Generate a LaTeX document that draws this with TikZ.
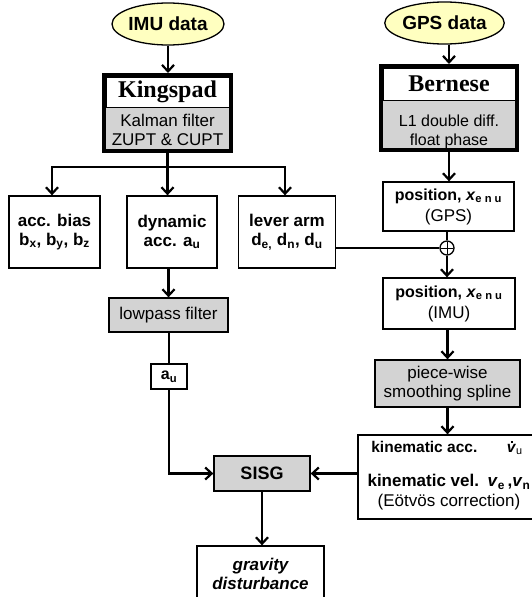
\documentclass[tikz,border=0pt]{standalone}
\usepackage{fontspec}
\setmainfont{Liberation Sans}
\newfontfamily\serifb{Liberation Serif}
\usetikzlibrary{arrows.meta,shapes.geometric}
\definecolor{boxgray}{RGB}{211,211,211}
\definecolor{ellyel}{RGB}{255,255,192}
\newcommand\sbs[1]{\textsubscript{#1}}
\newcommand\fs[1]{\fontsize{#1}{19}\selectfont}
\newcommand\vdt{\makebox[0pt][l]{\hspace{0.3em}\raisebox{0.62em}{\rule{2pt}{2pt}}}v}
\begin{document}
\begin{tikzpicture}[x=1pt,y=-1pt,
  line/.style={line width=2.5pt},
  arr/.style={line width=2.5pt,-{Straight Barb[length=6.5pt,width=12pt,line width=2.2pt]}},
  box/.style={draw,line width=1.3pt,fill=white,inner sep=0pt,align=center,font=\fs{17}\bfseries},
  gbox/.style={box,fill=boxgray,font=\fs{17}},
  bigbox/.style={draw,line width=4pt,fill=boxgray,inner sep=0pt},
  titlebox/.style={draw,line width=1pt,fill=white,inner sep=0pt,font=\serifb\bfseries\fontsize{24}{24}\selectfont},
  data/.style={ellipse,draw,line width=1.3pt,fill=ellyel,inner sep=0pt,font=\fs{19}\bfseries},
  plain/.style={inner sep=0pt,align=center}
]
\useasboundingbox (0,0) rectangle (532,597);
% data sources
\node[data,minimum width=108pt,minimum height=42pt] (imu) at (168,24) {IMU data};
\node[data,minimum width=107pt,minimum height=42pt] (gps) at (444.5,23) {GPS data};
% Kingspad
\node[bigbox,minimum width=127pt,minimum height=76pt] (king) at (167.5,113) {};
\node[titlebox,minimum width=123pt,minimum height=30pt] (kingT) at (167.5,92) {Kingspad};
\node[plain,font=\fs{17}] (kingK) at (167.5,129.5) {Kalman filter\\ZUPT \& CUPT};
% Bernese
\node[bigbox,minimum width=136pt,minimum height=84pt] (bern) at (449,108) {};
\node[titlebox,minimum width=132pt,minimum height=32pt] (bernT) at (449,84) {Bernese};
\node[plain,font=\fs{16}] (bernK) at (449,132) {L1 double diff.\\float phase};
% row of outputs
\node[box,minimum width=91pt,minimum height=72pt] (accb) at (54.5,232) {acc. bias\\b\sbs{x}, b\sbs{y}, b\sbs{z}};
\node[box,minimum width=90pt,minimum height=72pt] (dyn) at (172,232) {dynamic\\acc. a\sbs{u}};
\node[box,minimum width=97pt,minimum height=72pt] (lever) at (287,232) {lever arm\\d\sbs{e,} d\sbs{n}, d\sbs{u}};
% GPS chain
\node[box,minimum width=131pt,minimum height=49pt] (posG) at (448.5,206.5) {\fs{16}position, \textit{x}\sbs{e n u}\\[2pt]\mdseries\fs{17}(GPS)};
\node[box,minimum width=132pt,minimum height=51pt] (posI) at (449,303.5) {\fs{16}position, \textit{x}\sbs{e n u}\\[2pt]\mdseries\fs{17}(IMU)};
\node[gbox,minimum width=145pt,minimum height=47pt] (piece) at (447.5,383.5) {piece-wise\\smoothing spline};
\node[box,minimum width=181pt,minimum height=84pt] (kin) at (448.5,477) {};
\node[plain,font=\fs{15.5}\bfseries] (kinA) at (447,448) {kinematic acc.\hspace{1.9em}\textit{\vdt}\sbs{\mdseries u}};
\node[plain,font=\fs{17}\bfseries] (kinV) at (449,482) {kinematic vel.\enspace\textit{v}\sbs{e}\,,\textit{v}\sbs{n}};
\node[plain,font=\fs{17}] (kinE) at (449,502) {(Eötvös correction)};
% IMU chain
\node[gbox,minimum width=119pt,minimum height=34pt] (lp) at (168.5,315) {lowpass filter};
\node[box,minimum width=36pt,minimum height=25pt,font=\fs{16}\bfseries] (au) at (169,376.5) {a\sbs{u}};
\node[gbox,minimum width=96pt,minimum height=35pt,font=\fs{18}\bfseries] (sisg) at (262,473.5) {SISG};
\node[box,minimum width=127pt,minimum height=56pt,font=\fs{17}\bfseries\itshape] (grav) at (260.5,574) {gravity\\disturbance};
% summation
\node[circle,draw,line width=1.3pt,fill=white,minimum size=14pt,inner sep=0pt] (plus) at (447,248) {};
\draw[line width=1pt,shorten >=1.5pt,shorten <=1.5pt] (plus.north) -- (plus.south);
\draw[line width=1pt,shorten >=1.5pt,shorten <=1.5pt] (plus.west) -- (plus.east);
% branch coordinates
\coordinate (brL) at (52,167);
\coordinate (brR) at (285,167);
% connectors
\draw[arr] (imu.south) -- (imu.south |- king.north);
\draw[arr] (bern.north |- gps.south) -- (bern.north);
\draw[arr] (king.south) -- (king.south |- dyn.north);
\draw[arr] (brL) -- (brR) -- (brR |- lever.north);
\draw[arr] (brR) -- (brL) -- (brL |- accb.north);
\draw[arr] (bern.south) -- (bern.south |- posG.north);
\draw[line] (plus |- posG.south) -- (plus.north);
\draw[arr] (plus.south) -- (plus |- posI.north);
\draw[line] (lever.east |- plus) -- (plus.west);
\draw[arr] (piece.north |- posI.south) -- (piece.north);
\draw[arr] (piece.south) -- (piece.south |- kin.north);
\draw[arr] (kin.west |- sisg) -- (sisg.east);
\draw[arr] (lp.north |- dyn.south) -- (lp.north);
\draw[line] (au.north |- lp.south) -- (au.north);
\draw[arr] (au.south) |- (sisg.west);
\draw[arr] (sisg.south) -- (sisg.south |- grav.north);
\end{tikzpicture}
\end{document}
